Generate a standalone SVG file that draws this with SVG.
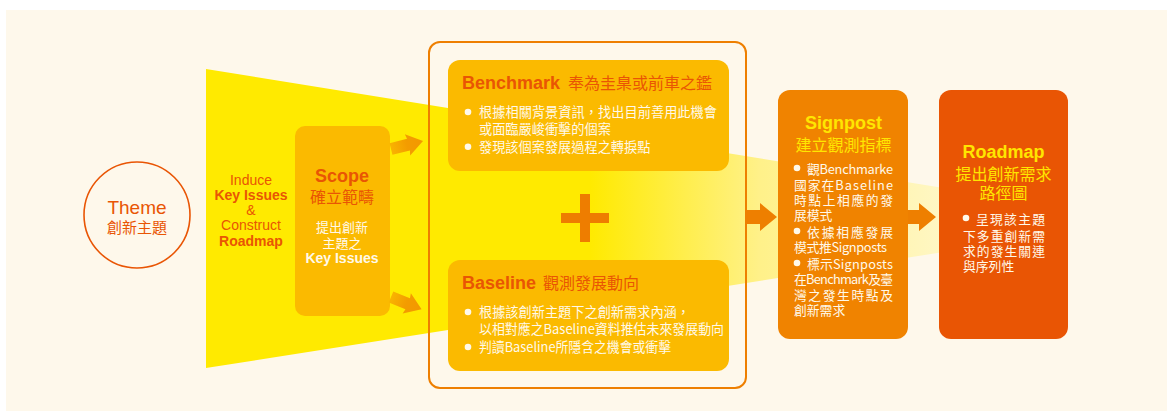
<svg xmlns="http://www.w3.org/2000/svg" width="1169" height="411" viewBox="0 0 1169 411">
<style>
.en{font-family:"Liberation Sans",Arial,"Noto Sans CJK TC",sans-serif}
.cjk{font-family:"Noto Sans CJK TC","Liberation Sans",sans-serif}
.b{font-weight:bold}
.red{fill:#E95504}
.wh{fill:#FFF9EA}
.yl{fill:#FFE600}
.bul{font-family:"Noto Sans CJK TC","Liberation Sans",sans-serif;font-size:13.2px;fill:#FFF9EA}
.bs{font-size:12.8px}
.box{fill:#FBBA00}
.dot{fill:#FFF9EA}
</style>
<defs>
<linearGradient id="fan" gradientUnits="userSpaceOnUse" x1="590" y1="0" x2="950" y2="0">
<stop offset="0" stop-color="#FFEA00"/>
<stop offset="0.47" stop-color="#FFF189"/>
<stop offset="1" stop-color="#FFF7C6"/>
</linearGradient>
<linearGradient id="sarr" x1="0" y1="0" x2="1" y2="0">
<stop offset="0" stop-color="#F9B400"/>
<stop offset="0.5" stop-color="#F39C00"/>
<stop offset="1" stop-color="#F39800"/>
</linearGradient>
<path id="smallArrow" d="M0,-6 L18,-6 L17,-11 L33,0 L17,11 L18,6 L0,6 Z"/>
</defs>
<rect x="6" y="10" width="1161" height="401" fill="#FEF8EB"/>
<polygon points="206,69 950,189 950,251 206,368" fill="url(#fan)"/>

<g id="theme">
<circle cx="137" cy="215" r="53" fill="none" stroke="#E95504" stroke-width="1.6"/>
<text x="137" y="214" class="en red" font-size="19" text-anchor="middle">Theme</text>
<text x="137" y="233" class="cjk red" font-size="15" text-anchor="middle">創新主題</text>
</g>

<g id="induce" class="en red" font-size="14" text-anchor="middle">
<text x="251" y="185">Induce</text>
<text x="251" y="200" class="b">Key Issues</text>
<text x="251" y="215">&amp;</text>
<text x="251" y="230">Construct</text>
<text x="251" y="246" class="b">Roadmap</text>
</g>

<g id="scope">
<rect x="295" y="126" width="95" height="190" rx="10" class="box"/>
<text x="342" y="182" class="en b red" font-size="18" text-anchor="middle">Scope</text>
<text x="342" y="203" class="cjk red" font-size="16" text-anchor="middle">確立範疇</text>
<text x="342" y="232" class="cjk wh" font-size="13" text-anchor="middle">提出創新</text>
<text x="342" y="248" class="cjk wh" font-size="13" text-anchor="middle">主題之</text>
<text x="342" y="263" class="en b wh" font-size="14" text-anchor="middle">Key Issues</text>
</g>

<g id="frame">
<rect x="429" y="42" width="317" height="346" rx="11" fill="none" stroke="#EE7F00" stroke-width="2"/>
<rect x="561" y="213" width="48" height="10" fill="#EE7D00"/>
<rect x="580" y="194" width="10" height="48" fill="#EE7D00"/>
</g>

<g id="benchmark">
<rect x="448" y="60" width="281" height="111" rx="12" class="box"/>
<text x="462" y="89" class="red"><tspan class="en b" font-size="18">Benchmark</tspan><tspan class="cjk" font-size="16" x="568">奉為圭臬或前車之鑑</tspan></text>
<circle cx="468" cy="112" r="3.3" class="dot"/>
<text x="479" y="116.5" class="bul" textLength="238" lengthAdjust="spacing">根據相關背景資訊，找出目前善用此機會</text>
<text x="479" y="134" class="bul">或面臨嚴峻衝擊的個案</text>
<circle cx="468" cy="146.7" r="3.3" class="dot"/>
<text x="479" y="151.5" class="bul">發現該個案發展過程之轉捩點</text>
</g>

<g id="baseline">
<rect x="448" y="260" width="281" height="111" rx="12" class="box"/>
<text x="462" y="289" class="red"><tspan class="en b" font-size="18">Baseline</tspan><tspan class="cjk" font-size="16" x="543">觀測發展動向</tspan></text>
<circle cx="468" cy="312" r="3.3" class="dot"/>
<text x="479" y="317" class="bul">根據該創新主題下之創新需求內涵，</text>
<text x="479" y="334" class="bul" textLength="245" lengthAdjust="spacingAndGlyphs">以相對應之Baseline資料推估未來發展動向</text>
<circle cx="468" cy="347" r="3.3" class="dot"/>
<text x="479" y="352" class="bul" textLength="192" lengthAdjust="spacingAndGlyphs">判讀Baseline所隱含之機會或衝擊</text>
</g>

<g id="signpost">
<rect x="778" y="90" width="130" height="249" rx="12" fill="#F08300"/>
<text x="843.5" y="129" class="en b yl" font-size="18" text-anchor="middle">Signpost</text>
<text x="843.5" y="151" class="cjk yl" font-size="16" text-anchor="middle">建立觀測指標</text>
<circle cx="797" cy="168" r="3.3" class="dot"/>
<text x="807" y="174" class="bul bs" textLength="86" lengthAdjust="spacing">觀Benchmarke</text>
<text x="794" y="190" class="bul bs" textLength="99" lengthAdjust="spacing">國家在Baseline</text>
<text x="794" y="205" class="bul bs" textLength="99" lengthAdjust="spacing">時點上相應的發</text>
<text x="794" y="220" class="bul bs">展模式</text>
<circle cx="797" cy="231" r="3.3" class="dot"/>
<text x="807" y="237" class="bul bs" textLength="86" lengthAdjust="spacing">依據相應發展</text>
<text x="794" y="252" class="bul bs" textLength="93" lengthAdjust="spacing">模式推Signposts</text>
<circle cx="797" cy="263" r="3.3" class="dot"/>
<text x="807" y="269" class="bul bs" textLength="86" lengthAdjust="spacing">標示Signposts</text>
<text x="794" y="284" class="bul bs" textLength="99" lengthAdjust="spacing">在Benchmark及臺</text>
<text x="794" y="300" class="bul bs" textLength="99" lengthAdjust="spacing">灣之發生時點及</text>
<text x="794" y="315" class="bul bs">創新需求</text>
</g>

<g id="roadmap">
<rect x="939" y="90" width="129" height="249" rx="12" fill="#E95504"/>
<text x="1003.5" y="158" class="en b yl" font-size="18" text-anchor="middle">Roadmap</text>
<text x="1003.5" y="180" class="cjk yl" font-size="16" text-anchor="middle">提出創新需求</text>
<text x="1003.5" y="199" class="cjk yl" font-size="16" text-anchor="middle">路徑圖</text>
<circle cx="966" cy="218" r="3.3" class="dot"/>
<text x="976" y="224" class="bul bs" textLength="69" lengthAdjust="spacing">呈現該主題</text>
<text x="963" y="241" class="bul bs" textLength="82" lengthAdjust="spacing">下多重創新需</text>
<text x="963" y="256" class="bul bs" textLength="82" lengthAdjust="spacing">求的發生關連</text>
<text x="963" y="271" class="bul bs">與序列性</text>
</g>

<g id="connectors">
<use href="#smallArrow" transform="translate(391,149) rotate(-14)" fill="url(#sarr)"/>
<use href="#smallArrow" transform="translate(391,297) rotate(22)" fill="url(#sarr)"/>
<polygon points="746,210 760,210 760,203 777,217 760,231 760,224 746,224" fill="#EE7F00"/>
<polygon points="908,210 919,210 919,203 936,217 919,231 919,224 908,224" fill="#EE7F00"/>
</g>
</svg>
